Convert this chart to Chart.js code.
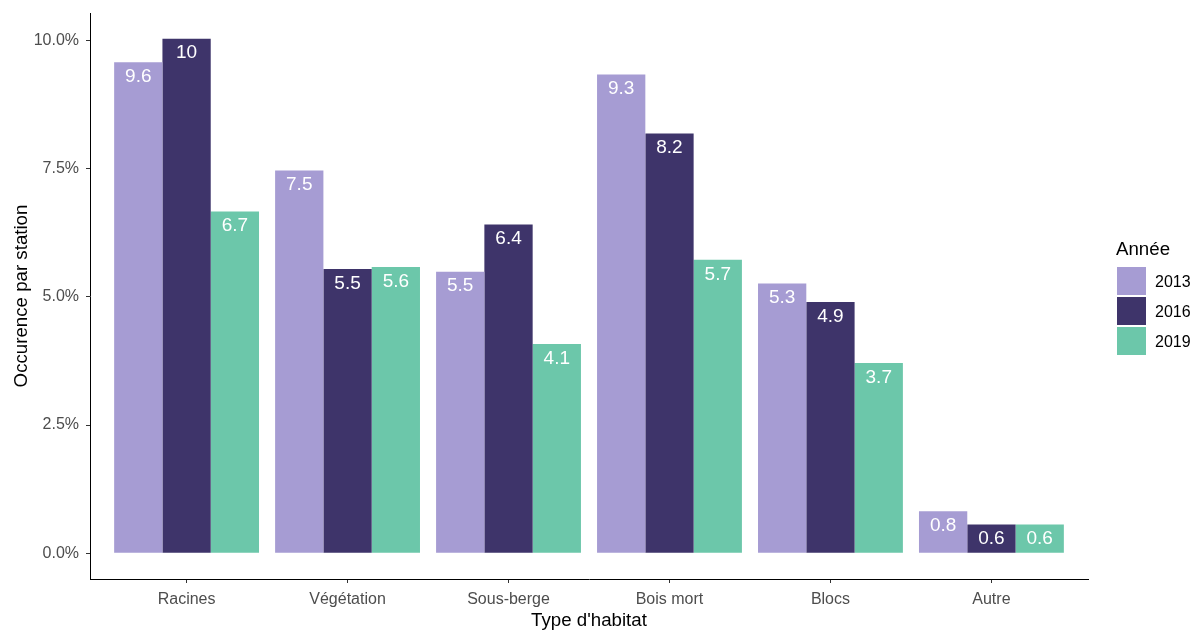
<!DOCTYPE html>
<html>
<head>
<meta charset="utf-8">
<script src="https://cdn.jsdelivr.net/npm/chart.js@4.4.1/dist/chart.umd.min.js"></script>
<style>
  html, body { margin: 0; padding: 0; background: #ffffff; }
  #wrap { width: 1203px; height: 630px; }
</style>
</head>
<body>
<div id="wrap"><canvas id="c" width="1203" height="630"></canvas></div>
<script>
// ---- Data ----
const categories = ['Racines', 'Végétation', 'Sous-berge', 'Bois mort', 'Blocs', 'Autre'];
const years = ['2013', '2016', '2019'];
const values2013 = [9.57, 7.46, 5.49, 9.33, 5.26, 0.82];
const values2016 = [10.03, 5.54, 6.41, 8.18, 4.90, 0.56];
const values2019 = [6.66, 5.58, 4.08, 5.72, 3.71, 0.56];
const yTicks = [0, 2.5, 5, 7.5, 10];
const colors = ['#A69CD3', '#3E346A', '#6CC7AA'];

const FONT = "'Liberation Sans', Arial, Helvetica, sans-serif";
const seriesValues = [values2013, values2016, values2019];

const datasets = years.map((y, k) => ({
  label: y,
  data: seriesValues[k].map((v, i) => ({ x: i, y: v })),
  backgroundColor: colors[k],
  borderWidth: 0,
  categoryPercentage: 0.9,
  barPercentage: 1.0
}));

const barLabels = {
  id: 'barLabels',
  afterDatasetsDraw(chart) {
    const ctx = chart.ctx;
    ctx.save();
    const fs = 19;
    ctx.font = fs + 'px ' + FONT;
    ctx.fillStyle = '#ffffff';
    ctx.textAlign = 'center';
    ctx.textBaseline = 'alphabetic';
    chart.data.datasets.forEach((ds, di) => {
      const meta = chart.getDatasetMeta(di);
      meta.data.forEach((el, i) => {
        const v = ds.data[i].y;
        const txt = String(Math.round(v * 10) / 10);
        ctx.fillText(txt, el.x, el.y + 13 + 0.358 * fs);
      });
    });
    ctx.restore();
  }
};

const customLegend = {
  id: 'customLegend',
  afterDraw(chart) {
    const ctx = chart.ctx;
    ctx.save();
    ctx.font = '18.7px ' + FONT;
    ctx.fillStyle = '#000000';
    ctx.textAlign = 'left';
    ctx.textBaseline = 'alphabetic';
    ctx.fillText('Année', 1116, 255);
    ctx.font = '16px ' + FONT;
    chart.data.datasets.forEach((ds, k) => {
      const top = 267 + k * 30;
      ctx.fillStyle = ds.backgroundColor;
      ctx.fillRect(1117, top, 29, 28);
      ctx.fillStyle = '#000000';
      ctx.fillText(ds.label, 1155, top + 14 + 0.358 * 16);
    });
    ctx.restore();
  }
};

new Chart(document.getElementById('c'), {
  type: 'bar',
  data: { datasets },
  plugins: [barLabels, customLegend],
  options: {
    responsive: false,
    animation: false,
    devicePixelRatio: 1,
    layout: { padding: { left: 0, right: 115, top: 13, bottom: 0 } },
    plugins: { legend: { display: false }, tooltip: { enabled: false } },
    scales: {
      x: {
        type: 'linear',
        min: -0.6,
        max: 5.6,
        offset: false,
        afterBuildTicks(scale) { scale.ticks = categories.map((c, i) => ({ value: i })); },
        afterFit(scale) { scale.height = 51; scale.paddingLeft = 0; scale.paddingRight = 0; },
        grid: { display: true, drawOnChartArea: false, drawTicks: true, tickLength: 4, color: '#333333', offset: false },
        border: { display: true, color: '#000000', width: 1 },
        ticks: {
          autoSkip: false, maxRotation: 0, minRotation: 0, padding: 7,
          color: '#4D4D4D', font: { family: FONT, size: 16 },
          callback: (v) => categories[v]
        },
        title: { display: true, text: "Type d'habitat", color: '#000000', font: { family: FONT, size: 18.7, lineHeight: 1 }, padding: { top: 0, bottom: 0 } }
      },
      y: {
        type: 'linear',
        min: -0.5,
        max: 10.53,
        afterBuildTicks(scale) { scale.ticks = yTicks.map(v => ({ value: v })); },
        afterFit(scale) { scale.width = 90; scale.paddingTop = 0; scale.paddingBottom = 0; },
        grid: { display: true, drawOnChartArea: false, drawTicks: true, tickLength: 4, color: '#333333' },
        border: { display: true, color: '#000000', width: 1 },
        ticks: {
          padding: 7, color: '#4D4D4D', font: { family: FONT, size: 16 },
          callback: (v) => v.toFixed(1) + '%'
        },
        title: { display: true, text: 'Occurence par station', color: '#000000', font: { family: FONT, size: 18.7, lineHeight: 1 }, padding: { top: 13, bottom: 0 } }
      }
    }
  }
});
</script>
</body>
</html>
